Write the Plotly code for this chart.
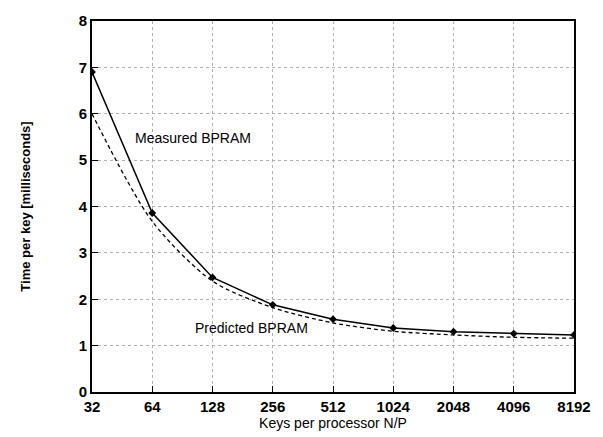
import math
import plotly.graph_objects as go

# Keys per processor N/P
keys = [32, 64, 128, 256, 512, 1024, 2048, 4096, 8192]
tick_labels = ["32", "64", "128", "256", "512", "1024", "2048", "4096", "8192"]

# Time per key in milliseconds
measured = [6.9, 3.86, 2.47, 1.88, 1.57, 1.38, 1.30, 1.26, 1.23]
predicted = [6.0, 3.68, 2.39, 1.82, 1.49, 1.31, 1.23, 1.18, 1.16]

y_ticks = [0, 1, 2, 3, 4, 5, 6, 7, 8]

fig = go.Figure()

fig.add_trace(go.Scatter(
    x=keys, y=predicted, mode="lines", line_shape="spline",
    line=dict(color="black", width=1.3, dash="4px,3px", smoothing=0.8),
    name="Predicted BPRAM", showlegend=False,
))
fig.add_trace(go.Scatter(
    x=keys, y=measured, mode="lines+markers",
    line=dict(color="black", width=1.5),
    marker=dict(symbol="diamond", size=6, color="black"),
    name="Measured BPRAM", showlegend=False,
))

# log axes take annotation positions as log10 values
fig.add_annotation(x=math.log10(2 ** 6.68), y=5.47, xref="x", yref="y",
                   text="Measured BPRAM", showarrow=False,
                   font=dict(size=14, color="black"))
fig.add_annotation(x=math.log10(2 ** 7.64), y=1.37, xref="x", yref="y",
                   text="Predicted BPRAM", showarrow=False,
                   font=dict(size=14, color="black"))

fig.update_layout(
    width=603, height=437,
    margin=dict(l=92, r=20, t=15, b=42),
    paper_bgcolor="white", plot_bgcolor="white",
    font=dict(family="Liberation Sans, Arial, sans-serif", color="black"),
)

fig.update_xaxes(
    type="log", range=[1.50515, 3.91339],
    tickvals=keys, ticktext=tick_labels,
    tickfont=dict(size=15, color="black", weight="bold"),
    ticks="inside", ticklen=6, tickcolor="black",
    showline=True, linecolor="black", linewidth=2, mirror=True,
    showgrid=True, gridcolor="#b0b0b0", gridwidth=1, griddash="dot",
    title=dict(text="Keys per processor N/P",
               font=dict(size=14, color="black"), standoff=0),
    zeroline=False,
)
fig.update_yaxes(
    range=[0, 8], tickvals=y_ticks,
    tickfont=dict(size=15, color="black", weight="bold"),
    ticks="inside", ticklen=6, tickcolor="black",
    showline=True, linecolor="black", linewidth=2, mirror=True,
    showgrid=True, gridcolor="#b0b0b0", gridwidth=1, griddash="dot",
    title=dict(text="Time per key [milliseconds]",
               font=dict(size=13, color="black", weight="bold"), standoff=45),
    zeroline=False,
)

fig.write_html("out.html")
